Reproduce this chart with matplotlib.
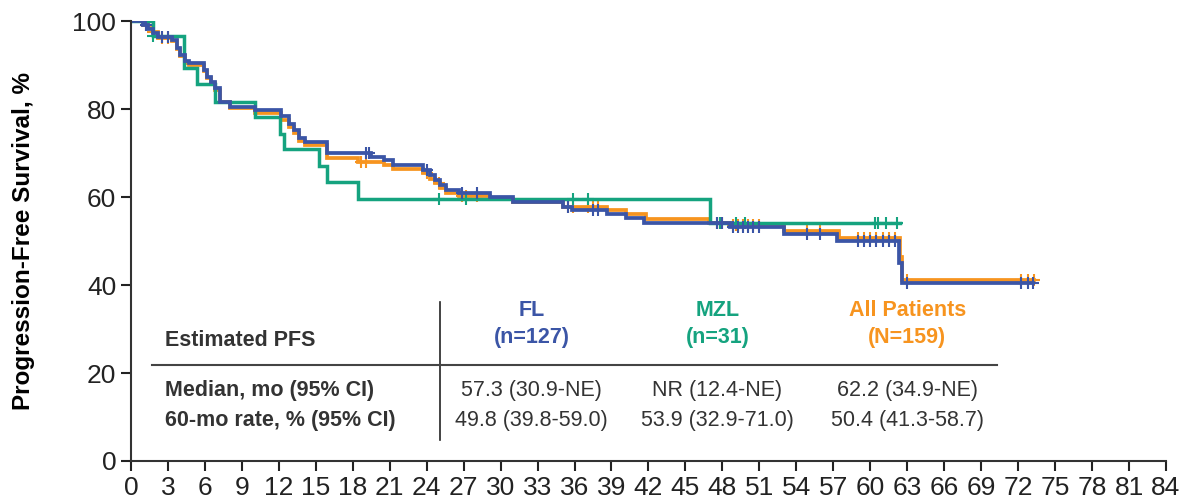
import numpy as np
import matplotlib.pyplot as plt

plt.rcParams['font.family'] = ['Liberation Sans', 'DejaVu Sans']

# ---- data (months, % PFS) ----
fl_t = [0, 1.0, 1.4, 1.8, 2.2, 3.3, 3.7, 4.0, 4.4, 4.7, 5.9, 6.2, 6.5, 6.8, 7.2, 8.0,
        10.1, 12.2, 12.8, 13.2, 13.6, 14.1, 15.9, 19.5, 20.5, 21.3, 23.7, 24.3, 24.7,
        25.1, 25.6, 26.6, 29.1, 31.0, 35.1, 35.8, 38.6, 40.2, 41.6, 48.6, 53.0, 57.3,
        62.3, 62.6, 73.2]
fl_s = [100, 99.1, 98.2, 97.3, 96.4, 95.7, 93.8, 92.3, 90.8, 90.4, 88.9, 87.3, 86.2,
        84.7, 81.7, 80.5, 79.8, 78.3, 76.7, 75.2, 73.3, 72.6, 69.9, 69.2, 68.4, 67.3,
        66.2, 65.0, 63.9, 62.8, 61.6, 60.8, 59.9, 58.9, 57.8, 57.0, 56.1, 55.2, 54.2,
        53.2, 51.5, 49.9, 44.9, 40.4, 40.4]
fl_cens = [1.2, 2.5, 3.0, 19.1, 19.3, 24.0, 26.9, 28.1, 35.5, 37.5, 37.9, 47.6, 48.0,
           48.9, 49.3, 49.7, 50.1, 50.5, 51.0, 54.9, 55.9, 59.0, 59.5, 60.0, 60.5, 61.0,
           61.5, 62.0, 63.0, 72.2, 72.8, 73.2]

mzl_t = [0, 1.8, 4.3, 5.4, 6.8, 10.1, 12.1, 12.4, 15.3, 15.9, 18.4, 47.0, 62.4]
mzl_s = [100, 96.7, 89.3, 85.6, 81.7, 78.1, 74.4, 70.8, 67.1, 63.4, 59.6, 54.0, 54.0]
mzl_cens = [1.8, 25.0, 27.2, 35.9, 37.1, 47.8, 49.1, 49.8, 60.4, 60.6, 61.3, 62.2]

all_t = [0, 1.0, 1.4, 1.8, 2.2, 3.3, 3.7, 4.0, 4.4, 4.7, 5.9, 6.2, 6.5, 6.8, 7.2, 8.0,
         10.1, 12.2, 12.8, 13.2, 13.6, 14.1, 15.9, 18.4, 20.5, 21.3, 23.7, 24.3, 24.7,
         25.1, 25.6, 26.6, 29.1, 31.0, 35.1, 38.6, 40.2, 41.8, 46.9, 48.6, 53.0, 57.5,
         62.4, 62.6, 73.3]
all_s = [100, 99.2, 98.4, 97.5, 96.2, 95.4, 93.6, 92.0, 90.5, 90.0, 88.6, 87.0, 85.9,
         84.4, 81.5, 80.2, 79.0, 77.6, 76.0, 74.5, 72.8, 71.8, 68.8, 68.0, 67.3, 66.4,
         65.4, 64.2, 63.1, 62.0, 61.0, 60.3, 59.6, 58.9, 57.8, 57.0, 56.1, 55.0, 54.2,
         53.6, 52.3, 50.7, 46.3, 41.1, 41.1]
all_cens = [1.2, 1.8, 2.5, 3.0, 18.7, 19.1, 24.0, 25.0, 26.9, 27.2, 28.1, 35.5, 35.9,
            37.1, 37.5, 37.9, 47.6, 47.8, 48.0, 48.9, 49.1, 49.3, 49.7, 50.1, 50.5,
            51.0, 54.9, 55.9, 59.0, 59.5, 60.0, 60.5, 61.0, 61.5, 62.0, 63.0, 72.2,
            72.8, 73.3]

row_labels = ['Median, mo (95% CI)', '60-mo rate, % (95% CI)']
group_names = ['FL', 'MZL', 'All Patients']
group_n = ['(n=127)', '(n=31)', '(N=159)']
fl_vals = ['57.3 (30.9-NE)', '49.8 (39.8-59.0)']
mzl_vals = ['NR (12.4-NE)', '53.9 (32.9-71.0)']
all_vals = ['62.2 (34.9-NE)', '50.4 (41.3-58.7)']

c_fl = '#3b55a6'
c_mzl = '#15a37f'
c_all = '#f7941f'

fig = plt.figure(figsize=(11.83, 4.98), dpi=100)
ax = fig.add_axes([0.1107, 0.0743, 0.8749, 0.8835])


def km(t, s, cens, color, lw):
    ax.step(t, s, where='post', color=color, lw=lw, solid_joinstyle='miter')
    t = np.asarray(t)
    s = np.asarray(s)
    idx = np.searchsorted(t, cens, side='right') - 1
    ax.plot(cens, s[idx], ls='none', marker='+', ms=8, mew=1.5, color=color)


km(all_t, all_s, all_cens, c_all, 2.7)
km(mzl_t, mzl_s, mzl_cens, c_mzl, 2.5)
km(fl_t, fl_s, fl_cens, c_fl, 2.7)

ax.set_xlim(0, 84)
ax.set_ylim(0, 100)
ax.set_xticks(np.arange(0, 85, 3))
ax.set_yticks(np.arange(0, 101, 20))
ax.tick_params(labelsize=19, length=7, width=1.5, colors='#222222')
for sp in ['top', 'right']:
    ax.spines[sp].set_visible(False)
for sp in ['left', 'bottom']:
    ax.spines[sp].set_linewidth(1.5)
    ax.spines[sp].set_color('#333333')
ax.set_ylabel('Progression-Free Survival, %', fontsize=17.5, fontweight='bold')
ax.yaxis.set_label_coords(-0.093, 0.5)

# ---- estimate table ----
fs = 15.5
ax.plot([25.1, 25.1], [4.8, 36.1], color='#222222', lw=1.2)
ax.plot([1.7, 70.3], [21.8, 21.8], color='#444444', lw=1.5)
ax.text(2.8, 27.3, 'Estimated PFS', fontsize=fs, fontweight='bold',
        color='#333333', va='center', ha='left')
col_x = [32.5, 47.6, 63.0]
for x, g, n, c, vals in zip(col_x, group_names, group_n, [c_fl, c_mzl, c_all],
                            [fl_vals, mzl_vals, all_vals]):
    ax.text(x, 34.1, g, fontsize=fs, fontweight='bold', color=c,
            ha='center', va='center')
    ax.text(x, 28.0, n, fontsize=fs, fontweight='bold', color=c,
            ha='center', va='center')
    for y, v in zip([16.1, 9.3], vals):
        ax.text(x, y, v, fontsize=fs, color='#333333', ha='center', va='center')
for y, lab in zip([16.1, 9.3], row_labels):
    ax.text(2.8, y, lab, fontsize=fs, fontweight='bold', color='#333333',
            ha='left', va='center')

fig.savefig('out.png', dpi=100)
